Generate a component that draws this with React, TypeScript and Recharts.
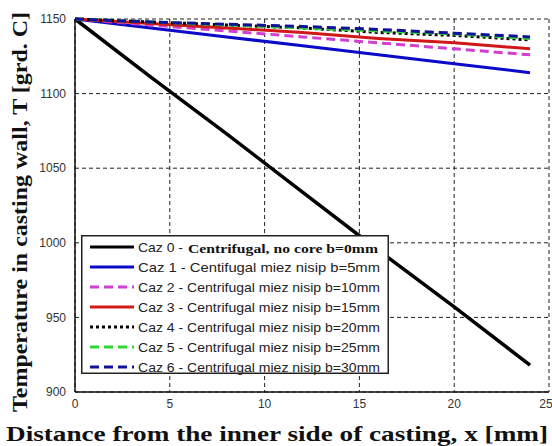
import { LineChart, Line, XAxis, YAxis, CartesianGrid } from 'recharts';

const xs = [0, 4, 8, 12, 16, 20, 24];
const caz0 = [1150, 1111, 1073, 1034, 995, 957, 918];
const caz1 = [1150, 1144, 1138, 1132, 1126, 1120, 1114];
const caz2 = [1150, 1146, 1142, 1138, 1134, 1130, 1126];
const caz3 = [1150, 1147, 1144, 1141, 1137, 1134, 1130];
const caz4 = [1150, 1148, 1146, 1144, 1141, 1139, 1136];
const caz5 = [1150, 1148, 1146, 1144, 1142, 1140, 1137];
const caz6 = [1150, 1148, 1146.5, 1145, 1143, 1140.5, 1138];
const xTicks = [0, 5, 10, 15, 20, 25];
const yTicks = [900, 950, 1000, 1050, 1100, 1150];

const series = [
  { key: 'c0', vals: caz0, color: '#000000', dash: undefined, name: 'Caz 0', desc: 'Centrifugal, no core b=0mm' },
  { key: 'c1', vals: caz1, color: '#0a0ac8', dash: undefined, name: 'Caz 1', desc: 'Centifugal miez nisip b=5mm' },
  { key: 'c2', vals: caz2, color: '#d040d0', dash: '9 5', name: 'Caz 2', desc: 'Centrifugal miez nisip b=10mm' },
  { key: 'c3', vals: caz3, color: '#d01818', dash: undefined, name: 'Caz 3', desc: 'Centrifugal miez nisip b=15mm' },
  { key: 'c4', vals: caz4, color: '#000000', dash: '3 3', name: 'Caz 4', desc: 'Centrifugal miez nisip b=20mm' },
  { key: 'c5', vals: caz5, color: '#30d830', dash: '9 5', name: 'Caz 5', desc: 'Centrifugal miez nisip b=25mm' },
  { key: 'c6', vals: caz6, color: '#10109a', dash: '9 5', name: 'Caz 6', desc: 'Centrifugal miez nisip b=30mm' },
];

const data = xs.map((x, i) => {
  const row: Record<string, number> = { x };
  series.forEach((s) => { row[s.key] = s.vals[i]; });
  return row;
});

const sans = '"Liberation Sans", Arial, sans-serif';
const serif = '"Liberation Serif", "Times New Roman", serif';

// legend drawn as an overlay so it doesn't shrink the plot area
function LegendBox() {
  return (
    <svg width={308} height={140} style={{ position: 'absolute', left: 81, top: 235 }}>
      <rect x={0.75} y={0.75} width={306.5} height={137.5} fill="#fff" stroke="#222" strokeWidth={1.5} />
      {series.map((s, i) => {
        const y = 12 + i * 20;
        return (
          <g key={s.key}>
            <line x1={9} x2={53} y1={y} y2={y} stroke={s.color} strokeWidth={3} strokeDasharray={s.dash} />
            <text x={57} y={y} dominantBaseline="central" fontFamily={sans} fontSize={13} fill="#222"
              textLength={i === 0 ? 45 : 299 - 57} lengthAdjust="spacingAndGlyphs">
              {i === 0 ? `${s.name} -` : `${s.name} - ${s.desc}`}
            </text>
            {i === 0 && (
              <text x={107} y={y + 1} dominantBaseline="central" fontFamily={serif} fontWeight="bold" fontSize={13.5} fill="#111"
                textLength={190} lengthAdjust="spacingAndGlyphs">
                {s.desc}
              </text>
            )}
          </g>
        );
      })}
    </svg>
  );
}

export default function App() {
  return (
    <div style={{ position: 'absolute', left: 0, top: 0, width: 552, height: 446, background: '#fff' }}>
      <LineChart width={552} height={446} data={data} margin={{ top: 19, right: 3, left: 0, bottom: 0 }}>
        <CartesianGrid stroke="#222" strokeDasharray="4 3" horizontalValues={yTicks} verticalValues={xTicks} />
        <XAxis dataKey="x" type="number" domain={[0, 25]} ticks={xTicks} height={54} tickLine={false}
          axisLine={{ stroke: '#111', strokeWidth: 1.5 }} tick={{ fill: '#333', fontSize: 12, fontFamily: sans }} tickMargin={1} />
        <YAxis type="number" domain={[900, 1150]} ticks={yTicks} width={75} tickLine={false}
          axisLine={{ stroke: '#111', strokeWidth: 1.5 }} tick={{ fill: '#333', fontSize: 12, fontFamily: sans }} tickMargin={3} />
        {series.map((s) => (
          <Line key={s.key} dataKey={s.key} stroke={s.color} strokeWidth={s.key === 'c0' ? 3.5 : 3} strokeDasharray={s.dash} dot={false} isAnimationActive={false} />
        ))}
        <text x={20} y={212} transform="rotate(-90 20 212)" textAnchor="middle" dominantBaseline="central"
          fontFamily={serif} fontWeight="bold" fontSize={21} fill="#111" textLength={400} lengthAdjust="spacingAndGlyphs">
          Temperature in casting wall, T [grd. C]
        </text>
        <text x={277} y={433} textAnchor="middle" dominantBaseline="central"
          fontFamily={serif} fontWeight="bold" fontSize={22} fill="#111" textLength={542} lengthAdjust="spacingAndGlyphs">
          Distance from the inner side of casting, x [mm]
        </text>
      </LineChart>
      <LegendBox />
    </div>
  );
}
